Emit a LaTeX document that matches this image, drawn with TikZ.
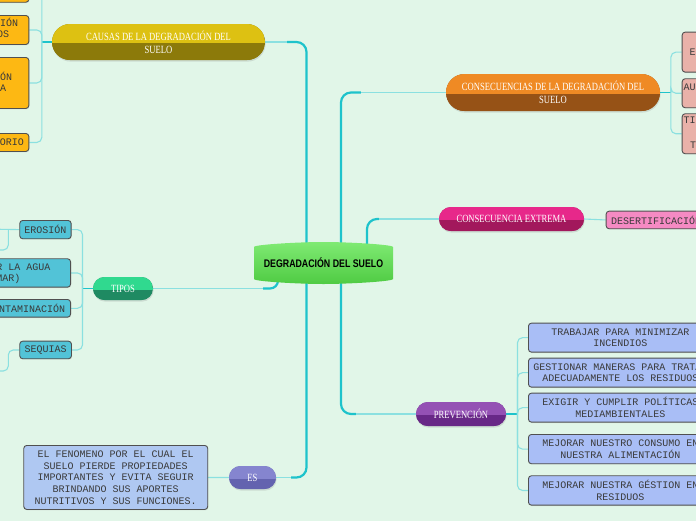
\documentclass[tikz,border=0pt]{standalone}
\usepackage{fontspec}
\usetikzlibrary{shapes.misc,shadows,backgrounds}
\newfontfamily\monofont{Liberation Mono}
\newfontfamily\pillfont[FakeStretch=0.78]{Liberation Serif}
\newfontfamily\rootfont[FakeStretch=0.8]{Liberation Sans}
\definecolor{bgc}{HTML}{E1F6E8}
\definecolor{trunkc}{HTML}{1EC3CB}
\definecolor{branchc}{HTML}{8BE0E0}
\definecolor{leafdraw}{HTML}{505050}
\definecolor{leaftext}{HTML}{3A3A3A}
\definecolor{causasT}{HTML}{DDC112}\definecolor{causasB}{HTML}{8C7A0A}
\definecolor{consT}{HTML}{EF8A24}\definecolor{consB}{HTML}{965216}
\definecolor{extT}{HTML}{E7288A}\definecolor{extB}{HTML}{A2185C}
\definecolor{tiposT}{HTML}{30D98F}\definecolor{tiposB}{HTML}{1F8A62}
\definecolor{prevT}{HTML}{9451B4}\definecolor{prevB}{HTML}{682887}
\definecolor{esT}{HTML}{8585CF}\definecolor{esB}{HTML}{6363AF}
\definecolor{causasL}{HTML}{FDB813}
\definecolor{tiposL}{HTML}{52C3D7}
\definecolor{consL}{HTML}{E9B1A9}
\definecolor{extL}{HTML}{F58AC3}
\definecolor{prevL}{HTML}{A9BEF6}
\definecolor{esL}{HTML}{AFC8F2}
\definecolor{rootT}{HTML}{7FEA73}\definecolor{rootB}{HTML}{4FCB43}
\tikzset{
  pill/.style 2 args={rounded rectangle, inner sep=1pt, fill=#2, text=white,
    font=\pillfont\fontsize{11}{13}\selectfont, align=center,
    path picture={\fill[#1] (path picture bounding box.north west) rectangle ([yshift=-1pt]path picture bounding box.east);
                  \fill[#2] ([yshift=-1pt]path picture bounding box.west) rectangle (path picture bounding box.south east);},
    drop shadow={opacity=0.22, shadow xshift=0.6pt, shadow yshift=-1.6pt}},
  leafbox/.style={draw=leafdraw, line width=0.9pt, rounded corners=3pt, fill=#1,
    font=\monofont\fontsize{10}{11.7}\selectfont, text=leaftext, align=center, inner sep=0pt,
    drop shadow={opacity=0.15, shadow xshift=0.6pt, shadow yshift=-0.9pt}},
  frag/.style={font=\monofont\fontsize{10}{11.7}\selectfont, text=leaftext, inner sep=0pt},
  trunk/.style={draw=trunkc, line width=2.2pt, rounded corners=10pt},
  branch/.style={draw=branchc, line width=1.2pt},
  stub/.style={draw=trunkc, line width=1.4pt},
  leafline/.style={draw=branchc, line width=1.1pt, rounded corners=5pt},
}
\begin{document}
\begin{tikzpicture}[x=1pt,y=-1pt]
\useasboundingbox (0,0) rectangle (696,520);
\clip (0,0) rectangle (696,520);
% root shape
\shade[top color=rootT, bottom color=rootB]
  (254,247) .. controls (254,244.5) and (300,242) .. (323.5,242)
  .. controls (347,242) and (393,244.5) .. (393,247) -- (393,279)
  .. controls (393,281.5) and (347,284) .. (323.5,284)
  .. controls (300,284) and (254,281.5) .. (254,279) -- cycle;
\node[font=\rootfont\bfseries\fontsize{11}{13}\selectfont, text=black, inner sep=0pt,
      minimum width=139, minimum height=41] (root) at (323.5,263) {DEGRADACIÓN DEL SUELO};
% main branches
\node[pill={causasT}{causasB}, minimum width=215, minimum height=36] (causas) at (158.5,42) {CAUSAS DE LA DEGRADACIÓN DEL\\SUELO};
\node[pill={consT}{consB}, minimum width=216, minimum height=37] (cons) at (553,92.5) {CONSECUENCIAS DE LA DEGRADACIÓN DEL\\SUELO};
\node[pill={extT}{extB}, minimum width=147, minimum height=24] (ext) at (511.5,219) {CONSECUENCIA EXTREMA};
\node[pill={tiposT}{tiposB}, minimum width=62, minimum height=23] (tipos) at (123,288.5) {TIPOS};
\node[pill={prevT}{prevB}, minimum width=92, minimum height=24] (prev) at (461,414) {PREVENCIÓN};
\node[pill={esT}{esB}, minimum width=49, minimum height=23] (es) at (252.5,477.5) {ES};
% causas leaves
\node[leafbox=causasL, minimum width=90, minimum height=28, anchor=south east] (c0) at (29.3,2.7) {};
\node[leafbox=causasL, minimum width=80, minimum height=29, anchor=north east] (c1) at (29.3,15) {};
\node[frag, anchor=base east] (c1a) at (18.3,26.8) {IÓN};
\node[frag, anchor=base east] (c1b) at (9.3,37.6) {OS};
\node[leafbox=causasL, minimum width=100, minimum height=51, anchor=north east] (c2) at (29.3,57) {};
\node[frag, anchor=base east] (c2a) at (12.3,80) {ÓN};
\node[frag, anchor=base east] (c2b) at (6.3,91.7) {A};
\node[leafbox=causasL, minimum width=100, minimum height=18, anchor=north east] (c3) at (29.3,133) {};
\node[frag, anchor=base east] (c3a) at (24,145.6) {ORIO};
% tipos leaves
\node[leafbox=tiposL, minimum width=51.4, minimum height=18.3, anchor=north west] (t1) at (19.3,220) {EROSIÓN};
\node[leafbox=tiposL, minimum width=110, minimum height=28.4, anchor=north east] (t2) at (71,258.3) {};
\node[frag, anchor=base east] (t2a) at (50.7,270.2) {R LA AGUA};
\node[frag, anchor=base east] (t2b) at (20.7,281.6) {MAR)};
\node[leafbox=tiposL, minimum width=88.6, minimum height=17.7, anchor=north east] (t3) at (71,299) {CONTAMINACIÓN};
\node[leafbox=tiposL, minimum width=51.7, minimum height=17.6, anchor=north west] (t4) at (19.3,340.7) {SEQUIAS};
% consecuencias leaves
\node[leafbox=consL, minimum width=100, minimum height=40, anchor=north west] (k1) at (681.7,31.7) {};
\node[frag, anchor=base west] (k1a) at (689.3,55.2) {E};
\node[leafbox=consL, minimum width=100, minimum height=29, anchor=north west] (k2) at (681.7,78.3) {};
\node[frag, anchor=base west] (k2a) at (683.5,90.2) {AU};
\node[leafbox=consL, minimum width=100, minimum height=40, anchor=north west] (k3) at (681.7,113.3) {};
\node[frag, anchor=base west] (k3a) at (683.5,123.5) {TI};
\node[frag, anchor=base west] (k3b) at (690,148.5) {T};
% extrema leaf
\node[leafbox=extL, minimum width=100, minimum height=17.6, anchor=north west] (d1) at (605.7,210.7) {DESERTIFICACIÓN};
% prevencion leaves
\node[leafbox=prevL, minimum width=184, minimum height=29, anchor=north west] (p1) at (528,322.7) {TRABAJAR PARA MINIMIZAR\\INCENDIOS};
\node[leafbox=prevL, minimum width=184, minimum height=29, anchor=north west] (p2) at (528,357.7) {GESTIONAR MANERAS PARA TRATAR\\ADECUADAMENTE LOS RESIDUOS};
\node[leafbox=prevL, minimum width=184, minimum height=29, anchor=north west] (p3) at (528,392.7) {EXIGIR Y CUMPLIR POLÍTICAS\\MEDIAMBIENTALES};
\node[leafbox=prevL, minimum width=184, minimum height=29.3, anchor=north west] (p4) at (528,434) {MEJORAR NUESTRO CONSUMO EN\\NUESTRA ALIMENTACIÓN};
\node[leafbox=prevL, minimum width=184, minimum height=29.4, anchor=north west] (p5) at (528,475.3) {MEJORAR NUESTRA GÉSTION EN\\RESIDUOS};
% es leaf
\node[leafbox=esL, minimum width=184, minimum height=64, anchor=north west] (def) at (23.3,445)
  {EL FENOMENO POR EL CUAL EL\\SUELO PIERDE PROPIEDADES\\IMPORTANTES Y EVITA SEGUIR\\BRINDANDO SUS APORTES\\NUTRITIVOS Y SUS FUNCIONES.};
% free ends / junctions
\coordinate (cj) at ([xshift=-10pt]causas.west);
\coordinate (tj) at ([xshift=-10.3pt]tipos.west);
\coordinate (kj) at ([xshift=10.7pt]cons.east);
\coordinate (pj) at ([xshift=11.3pt]prev.east);
\coordinate (ej) at ([xshift=-11pt]t1.west);
\coordinate (e1) at (-5,229.2);
\coordinate (e2) at (-5,250);
\coordinate (sj) at ([xshift=-11pt]t4.west);
\coordinate (s1) at (-5,371);
\begin{pgfonlayer}{background}
\fill[bgc] (-200,-200) rectangle (900,720);
% trunks
\draw[trunk] ([xshift=-17pt]root.center) |- ([xshift=22pt]causas.east);
\draw[branch] ([xshift=22pt]causas.east) -- (causas.east);
\draw[trunk] ([xshift=17.5pt]root.center) |- ([xshift=-85pt]cons.west);
\draw[branch] ([xshift=-85pt]cons.west) -- (cons.west);
\draw[trunk] ([xshift=43.5pt]root.center) |- ([xshift=-60pt]ext.west);
\draw[branch] ([xshift=-60pt]ext.west) -- (ext.west);
\draw[trunk, rounded corners=8pt] ([xshift=-45.5pt]root.center) |- ([xshift=110pt]tipos.east);
\draw[branch] ([xshift=110pt]tipos.east) -- (tipos.east);
\draw[trunk] ([xshift=-17pt]root.center) |- ([xshift=15pt]es.east);
\draw[branch] ([xshift=15pt]es.east) -- (es.east);
\draw[trunk] ([xshift=17.5pt]root.center) |- ([xshift=-60pt]prev.west);
\draw[branch] ([xshift=-60pt]prev.west) -- (prev.west);
% leaf links
\draw[stub] (causas.west) -- (cj);
\foreach \n in {c0,c1,c2,c3} \draw[leafline] (cj) |- (\n.east);
\draw[stub] (tipos.west) -- (tj);
\foreach \n in {t1,t2,t3,t4} \draw[leafline] (tj) |- (\n.east);
\draw[stub] (cons.east) -- (kj);
\foreach \n in {k1,k2,k3} \draw[leafline] (kj) |- (\n.west);
\draw[stub] (prev.east) -- (pj);
\foreach \n in {p1,p2,p3,p4,p5} \draw[leafline] (pj) |- (\n.west);
\draw[leafline] (ext.east) -- (d1.west);
\draw[leafline] (es.west) -- (def.east);
\draw[leafline] (t1.west) -- (e1);
\draw[leafline] (ej) |- (e2);
\draw[leafline] (t4.west) -- (sj) |- (s1);
\end{pgfonlayer}
\end{tikzpicture}
\end{document}
